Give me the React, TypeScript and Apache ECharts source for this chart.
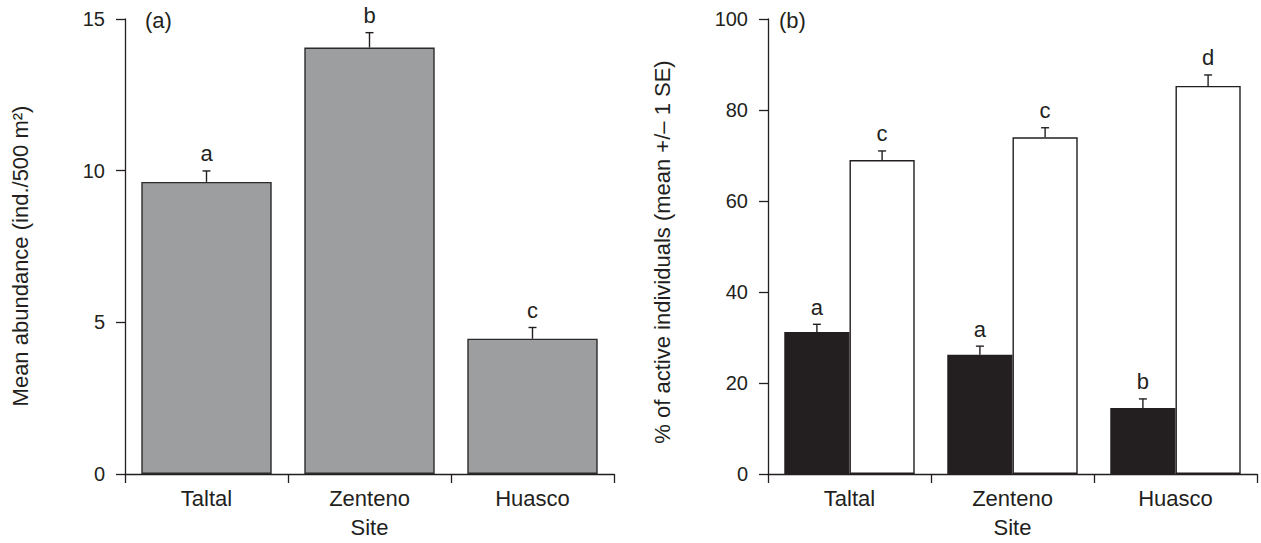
import React, { useEffect, useRef } from "react";
import * as echarts from "echarts";

const sites = ["Taltal", "Zenteno", "Huasco"];
const abundance = [9.63, 14.06, 4.46];
const abundanceSE = [0.36, 0.49, 0.37];
const abundanceLetters = ["a", "b", "c"];
const activeDark = [31.2, 26.2, 14.5];
const activeDarkSE = [1.7, 1.9, 2.0];
const activeDarkLetters = ["a", "a", "b"];
const activeLight = [69.0, 74.0, 85.3];
const activeLightSE = [2.0, 2.1, 2.4];
const activeLightLetters = ["c", "c", "d"];

const FONT = '"Liberation Sans", Arial, Helvetica, sans-serif';
const INK = "#231f20";

function errorSeries(
  xAxisIndex: number,
  means: number[],
  ses: number[],
  letters: string[],
  offsetFrac: number
) {
  return {
    type: "custom",
    xAxisIndex,
    yAxisIndex: xAxisIndex,
    z: 10,
    data: means.map((m, i) => [i, m, ses[i]]),
    renderItem: (params: any, api: any) => {
      const idx = api.value(0);
      const mean = api.value(1);
      const se = api.value(2);
      const base = api.coord([idx, mean]);
      const top = api.coord([idx, mean + se]);
      const band = api.size([1, 0])[0];
      const x = base[0] + offsetFrac * band;
      const st = { stroke: INK, lineWidth: 1.4 };
      return {
        type: "group",
        children: [
          { type: "line", shape: { x1: x, y1: base[1], x2: x, y2: top[1] }, style: st },
          { type: "line", shape: { x1: x - 4, y1: top[1], x2: x + 4, y2: top[1] }, style: st },
          {
            type: "text",
            x: x,
            y: top[1] - 6,
            style: {
              text: letters[params.dataIndex],
              fontSize: 22,
              fontFamily: FONT,
              fill: INK,
              align: "center",
              verticalAlign: "bottom",
              textAlign: "center",
              textVerticalAlign: "bottom",
            },
          },
        ],
      };
    },
  };
}

export default function App() {
  const ref = useRef<HTMLDivElement>(null);
  useEffect(() => {
    document.body.style.margin = "0";
    const chart = echarts.init(ref.current!, null, { renderer: "svg" });
    const axisCommon = {
      axisLine: { show: true, lineStyle: { color: INK, width: 1.3 } },
      axisTick: { show: true, length: 9, lineStyle: { color: INK, width: 1.3 } },
      splitLine: { show: false },
    };
    const xAxisFor = (gridIndex: number) => ({
      type: "category",
      gridIndex,
      data: sites,
      boundaryGap: true,
      ...axisCommon,
      axisTick: { ...axisCommon.axisTick, alignWithLabel: false, interval: 0 },
      axisLabel: { color: INK, fontSize: 22, fontFamily: FONT, margin: 13 },
      name: "Site",
      nameLocation: "middle",
      nameGap: 42,
      nameTextStyle: { color: INK, fontSize: 22, fontFamily: FONT },
    });
    const yAxisFor = (gridIndex: number, max: number, interval: number) => ({
      type: "value",
      gridIndex,
      min: 0,
      max,
      interval,
      ...axisCommon,
      axisLabel: { color: INK, fontSize: 20, fontFamily: FONT, margin: 20 },
    });
    chart.setOption({
      animation: false,
      backgroundColor: "#ffffff",
      grid: [
        { left: 125, right: 647, top: 19, bottom: 69 },
        { left: 768, right: 4, top: 19, bottom: 69 },
      ],
      xAxis: [xAxisFor(0), xAxisFor(1)],
      yAxis: [yAxisFor(0, 15, 5), yAxisFor(1, 100, 20)],
      series: [
        {
          type: "bar",
          xAxisIndex: 0,
          yAxisIndex: 0,
          data: abundance,
          barWidth: "80%",
          itemStyle: { color: "#9d9ea0", borderColor: "#2b2b2b", borderWidth: 1.4 },
        },
        {
          type: "bar",
          xAxisIndex: 1,
          yAxisIndex: 1,
          data: activeDark,
          barGap: "0%",
          barCategoryGap: "20%",
          itemStyle: { color: INK, borderColor: INK, borderWidth: 1.2 },
        },
        {
          type: "bar",
          xAxisIndex: 1,
          yAxisIndex: 1,
          data: activeLight,
          barGap: "0%",
          barCategoryGap: "20%",
          itemStyle: { color: "#ffffff", borderColor: INK, borderWidth: 1.4 },
        },
        errorSeries(0, abundance, abundanceSE, abundanceLetters, 0),
        errorSeries(1, activeDark, activeDarkSE, activeDarkLetters, -0.2),
        errorSeries(1, activeLight, activeLightSE, activeLightLetters, 0.2),
      ],
      graphic: [
        {
          type: "text",
          x: 20,
          y: 256,
          rotation: Math.PI / 2,
          style: {
            text: "Mean abundance (ind./500 m²)",
            fontSize: 22,
            fontFamily: FONT,
            fill: INK,
            align: "center",
            verticalAlign: "middle",
            textAlign: "center",
            textVerticalAlign: "middle",
          },
        },
        {
          type: "text",
          x: 662,
          y: 252,
          rotation: Math.PI / 2,
          style: {
            text: "% of active individuals (mean +/– 1 SE)",
            fontSize: 22,
            fontFamily: FONT,
            fill: INK,
            align: "center",
            verticalAlign: "middle",
            textAlign: "center",
            textVerticalAlign: "middle",
          },
        },
        {
          type: "text",
          x: 145,
          y: 20,
          style: {
            text: "(a)",
            fontSize: 22,
            fontFamily: FONT,
            fill: INK,
            align: "left",
            verticalAlign: "middle",
            textAlign: "left",
            textVerticalAlign: "middle",
          },
        },
        {
          type: "text",
          x: 779,
          y: 20,
          style: {
            text: "(b)",
            fontSize: 22,
            fontFamily: FONT,
            fill: INK,
            align: "left",
            verticalAlign: "middle",
            textAlign: "left",
            textVerticalAlign: "middle",
          },
        },
      ],
    });
    return () => chart.dispose();
  }, []);
  return <div ref={ref} style={{ width: 1261, height: 543 }} />;
}
